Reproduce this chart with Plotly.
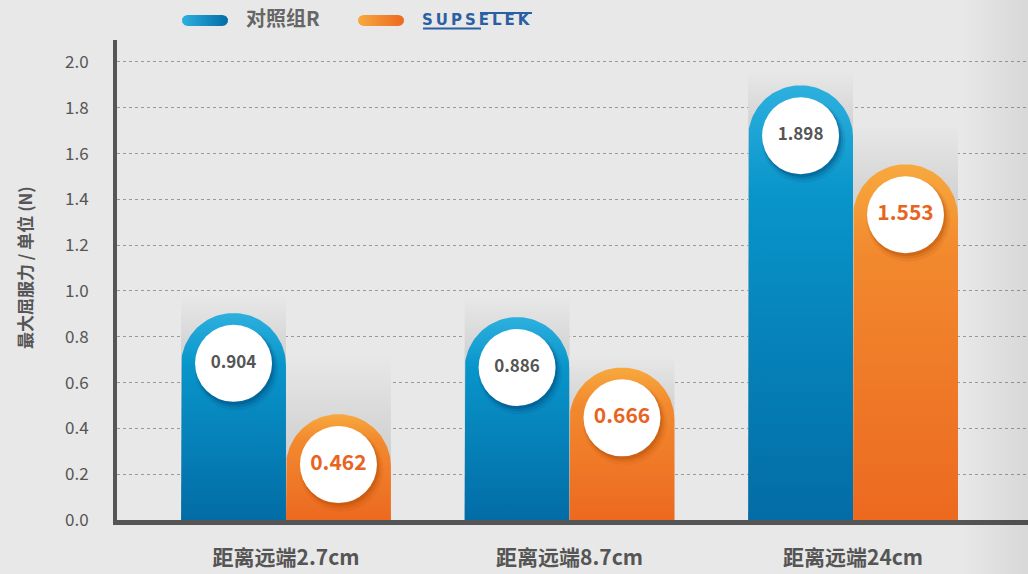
import numpy as np
import plotly.graph_objects as go

# ---------------- data ----------------
categories = ["距离远端2.7cm", "距离远端8.7cm", "距离远端24cm"]
series_names = ["对照组R", "SUPSELEK"]
control_values = [0.904, 0.886, 1.898]
supselek_values = [0.462, 0.666, 1.553]
# decorative grey backdrop tops behind each bar
control_backdrop = [0.98, 0.98, 1.96]
supselek_backdrop = [0.72, 0.72, 1.73]
y_ticks = [0.0, 0.2, 0.4, 0.6, 0.8, 1.0, 1.2, 1.4, 1.6, 1.8, 2.0]

# ---------------- style ----------------
W, H = 1028, 574
BG = "#e8e8e8"
FONT = "Noto Sans CJK SC"
X_RANGE = [-0.596, 2.617]
Y_RANGE = [0, 2.096]
X_DOM = [117 / W, 1.0]
Y_DOM = [1 - 520 / H, 1 - 40 / H]
px_per_x = (X_DOM[1] - X_DOM[0]) * W / (X_RANGE[1] - X_RANGE[0])
px_per_y = (Y_DOM[1] - Y_DOM[0]) * H / (Y_RANGE[1] - Y_RANGE[0])
HW = 0.185                    # half bar width (category units)
RY = HW * px_per_x / px_per_y  # round-top radius in y units

blue = dict(top="#2db0de", mid="#0895ca", bottom="#036ca6", text="#555555",
            shadow="rgba(0,60,110,{a})", tsize=17)
orange = dict(top="#f7a93e", mid="#f2892e", bottom="#ec6920", text="#e8651f",
              shadow="rgba(170,70,0,{a})", tsize=21)

fig = go.Figure()


def bar_shape(xc, v):
    t = np.linspace(np.pi, 0, 60)
    xs = [xc - HW, xc - HW] + list(xc + HW * np.cos(t)) + [xc + HW, xc + HW, xc - HW]
    ys = [0, v - RY] + list(v - RY + RY * np.sin(t)) + [v - RY, 0, 0]
    return xs, ys


for values, backdrop, sty, off in [
    (control_values, control_backdrop, blue, -HW),
    (supselek_values, supselek_backdrop, orange, HW),
]:
    for i, (v, b) in enumerate(zip(values, backdrop)):
        xc = i + off
        # grey backdrop
        fig.add_trace(go.Scatter(
            x=[xc - HW, xc + HW, xc + HW, xc - HW, xc - HW], y=[0, 0, b, b, 0],
            mode="lines", fill="toself", line=dict(width=0), hoverinfo="skip",
            fillgradient=dict(type="vertical", start=0, stop=b,
                              colorscale=[[0, "#c6c6c6"], [max(0.01, (v - 0.25) / b), "#cbcbcb"],
                                          [1, BG]]),
            showlegend=False))
    for i, v in enumerate(values):
        xc = i + off
        xs, ys = bar_shape(xc, v)
        fig.add_trace(go.Scatter(
            x=xs, y=ys, mode="lines", fill="toself", line=dict(width=0),
            hoverinfo="skip", showlegend=False,
            fillgradient=dict(type="vertical", start=0, stop=v,
                              colorscale=[[0, sty["bottom"]], [0.75, sty["mid"]], [1, sty["top"]]])))
    cx = [i + off for i in range(len(values))]
    cy = [v - 0.22 for v in values]
    # circle shadow
    for sz, a, dx, dy in [(84, 0.10, 3, 5), (80, 0.18, 2.5, 4), (78, 0.28, 1.5, 2.5)]:
        fig.add_trace(go.Scatter(
            x=[c + dx / px_per_x for c in cx], y=[c - dy / px_per_y for c in cy],
            mode="markers", marker=dict(size=sz, color=sty["shadow"].format(a=a), line=dict(width=0)),
            hoverinfo="skip", showlegend=False))
    fig.add_trace(go.Scatter(
        x=cx, y=cy, mode="markers+text",
        marker=dict(size=77, color="white", line=dict(width=0)),
        text=[f"{v:.3f}" for v in values], textposition="middle center",
        textfont=dict(family=FONT, size=sty["tsize"], color=sty["text"], weight="bold"),
        hoverinfo="skip", showlegend=False))

# ---------------- overlay (legend + edge shading) in pixel coords ----------------
def pill(x0, x1, yc, h):
    r = h / 2
    t = np.linspace(np.pi / 2, 3 * np.pi / 2, 20)
    left = [(x0 + r + r * np.cos(a), yc - r * np.sin(a)) for a in t]
    t2 = np.linspace(-np.pi / 2, np.pi / 2, 20)
    right = [(x1 - r + r * np.cos(a), yc - r * np.sin(a)) for a in t2]
    pts = left + right + [left[0]]
    return [p[0] for p in pts], [p[1] for p in pts]


# right-edge darkening
fig.add_trace(go.Scatter(
    x=[960, 1028, 1028, 960, 960], y=[0, 0, 574, 574, 0], xaxis="x2", yaxis="y2",
    mode="lines", fill="toself", line=dict(width=0), hoverinfo="skip", showlegend=False,
    fillgradient=dict(type="horizontal", start=960, stop=1028,
                      colorscale=[[0, "rgba(0,0,0,0)"], [1, "rgba(0,0,0,0.07)"]])))

for (x0, x1), sty in [((182, 228), blue), ((358, 404), orange)]:
    px, py = pill(x0, x1, 20.5, 11)
    fig.add_trace(go.Scatter(
        x=px, y=py, xaxis="x2", yaxis="y2", mode="lines", fill="toself",
        line=dict(width=0), hoverinfo="skip", showlegend=False,
        fillgradient=dict(type="horizontal", start=x0, stop=x1,
                          colorscale=[[0, sty["top"]], [1, sty["bottom"]]])))

fig.add_trace(go.Scatter(
    x=[246], y=[20.5], xaxis="x2", yaxis="y2", mode="text", text=[series_names[0]],
    textposition="middle right", hoverinfo="skip", showlegend=False,
    textfont=dict(family=FONT, size=20, color="#666666", weight="bold")))
fig.add_trace(go.Scatter(
    x=[422], y=[21], xaxis="x2", yaxis="y2", mode="text",
    text=["\u2009".join(series_names[1])],
    textposition="middle right", hoverinfo="skip", showlegend=False,
    textfont=dict(family="DejaVu Sans", size=15, color="#2b5fa3", weight="bold")))
for xs, yv in [([423, 481], 28.5), ([480, 532], 13.0)]:
    fig.add_trace(go.Scatter(
        x=xs, y=[yv, yv], xaxis="x2", yaxis="y2", mode="lines",
        line=dict(color="#2b5fa3", width=2), hoverinfo="skip", showlegend=False))

fig.update_layout(
    width=W, height=H,
    margin=dict(l=0, r=0, t=0, b=0, autoexpand=False),
    paper_bgcolor=BG, plot_bgcolor="rgba(0,0,0,0)",
    showlegend=False,
    font=dict(family=FONT, color="#555555"),
    xaxis=dict(domain=X_DOM, range=X_RANGE, tickvals=list(range(len(categories))),
               ticktext=categories, showgrid=False, zeroline=False,
               showline=True, linecolor="#555555", linewidth=5,
               ticks="", ticklabelstandoff=15, automargin=False,
               tickfont=dict(family=FONT, size=21, color="#555555", weight="bold"),
               fixedrange=True),
    yaxis=dict(domain=Y_DOM, range=Y_RANGE, tickvals=y_ticks,
               ticktext=[f"{t:.1f}" for t in y_ticks],
               showgrid=True, gridcolor="#9a9a9a", gridwidth=1, griddash="3px,3px",
               zeroline=False, showline=True, linecolor="#555555", linewidth=4,
               ticks="", ticklabelstandoff=21, automargin=False,
               tickfont=dict(family=FONT, size=17, color="#555555"),
               fixedrange=True),
    xaxis2=dict(domain=[0, 1], range=[0, W], visible=False, anchor="y2", fixedrange=True),
    yaxis2=dict(domain=[0, 1], range=[H, 0], visible=False, anchor="x2", fixedrange=True),
    annotations=[dict(
        text="最大屈服力 / 单位 (N)", xref="paper", yref="paper",
        x=25 / W, y=1 - 268 / H, xanchor="center", yanchor="middle",
        textangle=-90, showarrow=False,
        font=dict(family=FONT, size=17, color="#555555", weight="bold"))],
)

fig.write_html("out.html")
